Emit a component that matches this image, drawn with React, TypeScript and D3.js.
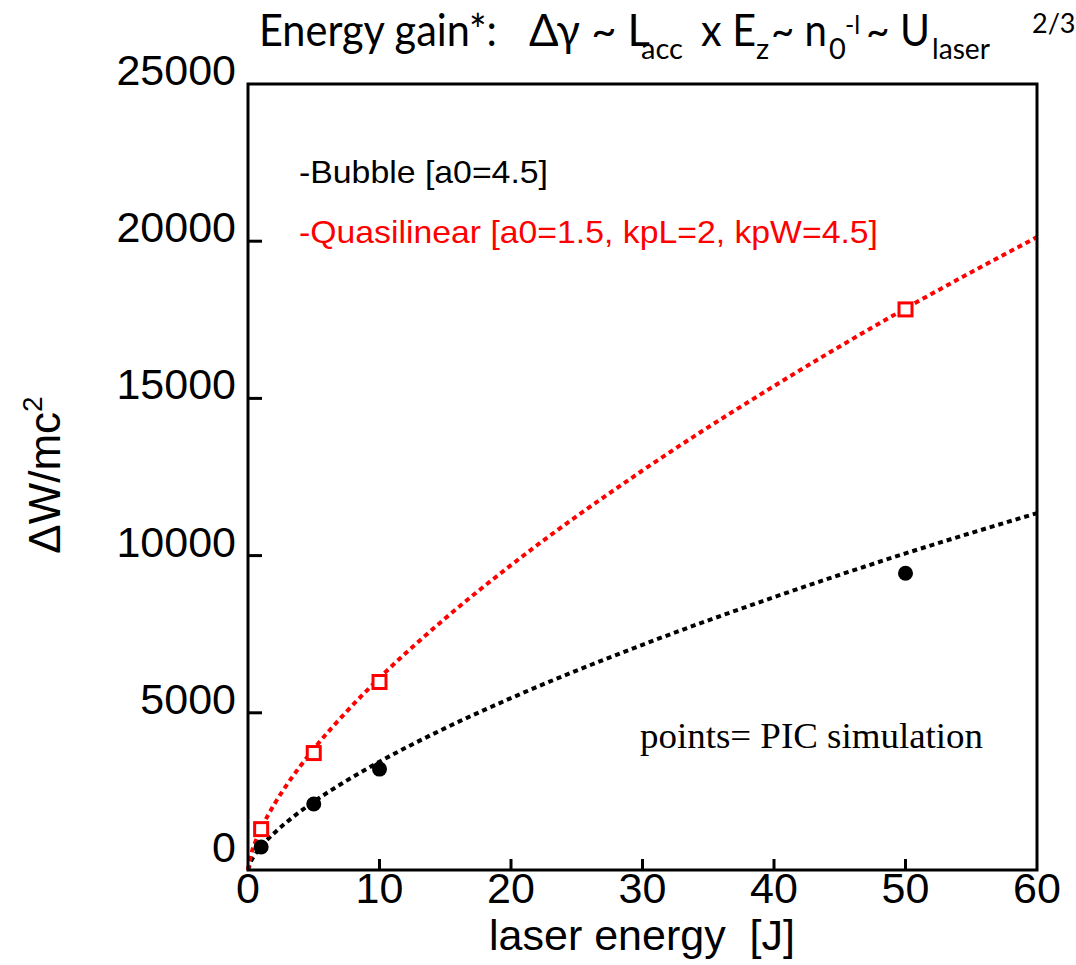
import React from "react";
import * as d3 from "d3";

// ---- data ----
const xTicks = [0, 10, 20, 30, 40, 50, 60];
const yTicks = [0, 5000, 10000, 15000, 20000, 25000];

const simEnergy = [1, 5, 10, 50];
const bubblePIC = [730, 2100, 3210, 9440];
const quasiPIC = [1300, 3720, 5980, 17830];

const fitEnergy = [0, 0.25, 0.5, 1, 2, 3, 5, 7.5, 10, 15, 20, 30, 40, 50, 60];
const bubbleFit = [0, 295, 467, 742, 1178, 1543, 2170, 2842, 3444, 4513, 5467, 7164, 8678, 10070, 11350];
const quasiFit = [0, 522, 829, 1316, 2089, 2738, 3848, 5040, 6108, 8004, 9696, 12706, 15392, 17860, 20130];

const legendBubble = "-Bubble [a0=4.5]";
const legendQuasi = "-Quasilinear [a0=1.5, kpL=2, kpW=4.5]";
const noteText = "points= PIC simulation";
const xAxisTitle = "laser energy\u00a0\u00a0[J]";

export default function App() {
  const W = 1076, H = 965;
  const left = 248, right = 1037, top = 84, bottom = 870;
  const x = d3.scaleLinear().domain([0, 60]).range([left, right]);
  const y = d3.scaleLinear().domain([0, 25000]).range([bottom, top]);

  const line = d3
    .line<number>()
    .x((_, i) => x(fitEnergy[i]))
    .y((d) => y(d))
    .curve(d3.curveMonotoneX);

  const sans = "'Liberation Sans', Arial, Helvetica, sans-serif";
  const title = "Lato, 'Open Sans', sans-serif";

  return (
    <svg
      width={W}
      height={H}
      style={{ position: "absolute", left: 0, top: 0, background: "#fff" }}
    >
      {/* Title */}
      <text fontFamily={title} fill="#000" fontSize={45}>
        <tspan x={259} y={46} textLength={238} lengthAdjust="spacingAndGlyphs">Energy gain*:</tspan>
        <tspan x={529} y={46} textLength={121} lengthAdjust="spacingAndGlyphs">Δγ ~ L</tspan>
        <tspan x={641} y={59} fontSize={29} textLength={42} lengthAdjust="spacingAndGlyphs">acc</tspan>
        <tspan x={701} y={46} textLength={55} lengthAdjust="spacingAndGlyphs">x E</tspan>
        <tspan x={756} y={59} fontSize={29}>z</tspan>
        <tspan x={771} y={46} textLength={56} lengthAdjust="spacingAndGlyphs">~ n</tspan>
        <tspan x={829} y={59} fontSize={29}>0</tspan>
        <tspan x={845} y={34} fontSize={25}>-l</tspan>
        <tspan x={866} y={46} textLength={64} lengthAdjust="spacingAndGlyphs">~ U</tspan>
        <tspan x={932} y={59} fontSize={29} textLength={58} lengthAdjust="spacingAndGlyphs">laser</tspan>
        <tspan x={1032} y={33} fontSize={27}>2/3</tspan>
      </text>

      {/* fit curves */}
      <path d={line(bubbleFit) || ""} fill="none" stroke="#000" strokeWidth={4} strokeDasharray="5 4" />
      <path d={line(quasiFit) || ""} fill="none" stroke="#ff0000" strokeWidth={4} strokeDasharray="5 4" />

      {/* PIC points */}
      {simEnergy.map((e, i) => (
        <circle key={"b" + i} cx={x(e)} cy={y(bubblePIC[i])} r={7.5} fill="#000" />
      ))}
      {simEnergy.map((e, i) => (
        <rect
          key={"q" + i}
          x={x(e) - 6.5}
          y={y(quasiPIC[i]) - 6.5}
          width={13}
          height={13}
          fill="#fff"
          stroke="#ff0000"
          strokeWidth={3}
        />
      ))}

      {/* frame */}
      <rect x={left} y={top} width={right - left} height={bottom - top} fill="none" stroke="#000" strokeWidth={3} />

      {/* ticks */}
      {xTicks.slice(1, -1).map((t) => (
        <line key={"xt" + t} x1={x(t)} x2={x(t)} y1={bottom} y2={bottom - 11} stroke="#000" strokeWidth={3} />
      ))}
      {yTicks.slice(1, -1).map((t) => (
        <line key={"yt" + t} x1={left} x2={left + 14} y1={y(t)} y2={y(t)} stroke="#000" strokeWidth={3} />
      ))}

      {/* tick labels */}
      <g fontFamily={sans} fontSize={43} fill="#000">
        {xTicks.map((t) => (
          <text key={"xl" + t} x={x(t)} y={903} textAnchor="middle">
            {t}
          </text>
        ))}
        {yTicks.map((t) => (
          <text key={"yl" + t} x={236} y={Math.min(y(t) + 1, 862)} textAnchor="end">
            {t}
          </text>
        ))}
      </g>

      {/* axis titles */}
      <text x={642} y={950} textAnchor="middle" fontFamily={sans} fontSize={43} fill="#000">
        {xAxisTitle}
      </text>
      <text
        transform="translate(60,475) rotate(-90)"
        textAnchor="middle"
        fontFamily={sans}
        fontSize={44}
        fill="#000"
      >
        ΔW/mc<tspan dy={-18} fontSize={28}>2</tspan>
      </text>

      {/* legend text */}
      <text x={299} y={183} fontFamily={sans} fontSize={32} fill="#000" textLength={249} lengthAdjust="spacingAndGlyphs">
        {legendBubble}
      </text>
      <text x={299} y={243} fontFamily={sans} fontSize={32} fill="#ff0000" textLength={579} lengthAdjust="spacingAndGlyphs">
        {legendQuasi}
      </text>

      {/* note */}
      <text x={640} y={748} fontFamily="'Liberation Serif', 'Times New Roman', serif" fontSize={35} fill="#000" textLength={343} lengthAdjust="spacingAndGlyphs">
        {noteText}
      </text>
    </svg>
  );
}
